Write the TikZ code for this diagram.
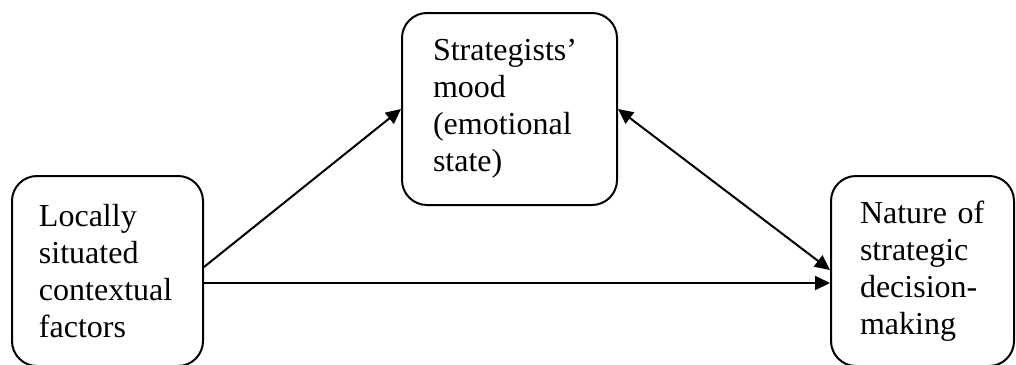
\documentclass[tikz,border=0pt]{standalone}
\usepackage{fontspec}
\setmainfont{Liberation Serif}
\usetikzlibrary{shapes,arrows.meta}
\tikzstyle{factor} = [rectangle, rounded corners=12.5pt, line width=1pt, draw=black, align=left, minimum height=95pt, inner ysep=0pt, font=\fontsize{16}{18.5}\selectfont]
\tikzstyle{arrow} = [line width=1pt, ->, >={Triangle[length=7.5pt,width=7pt]}]

\begin{document}
\begin{tikzpicture}[x=0.5pt, y=-0.5pt]
\useasboundingbox (0,0) rectangle (1016,364);
% nodes
\node (lcf) [factor, minimum width=95.5pt, text width=68.5pt, inner xsep=13.5pt] at (107.5,271) {Locally\\situated\\contextual\\factors};
\node (mood) [factor, minimum width=107.5pt, minimum height=96pt, text width=76.5pt, inner xsep=15.5pt] at (509.5,109) {Strategists’\\mood\\(emotional\\state)};
\node (sdm) [factor, minimum width=91.5pt, text width=62.5pt, inner xsep=14.5pt] at (922.5,271) {Nature of\\strategic\\decision-\\making};

% edges
\draw [arrow] ([yshift=2pt]lcf.east) -- (mood.west);
\draw [arrow] ([yshift=-6pt]lcf.east) -- ([yshift=-6pt]sdm.west);
\draw [arrow, <->] (mood.east) -- ([yshift=0.5pt]sdm.west);
\end{tikzpicture}
\end{document}
